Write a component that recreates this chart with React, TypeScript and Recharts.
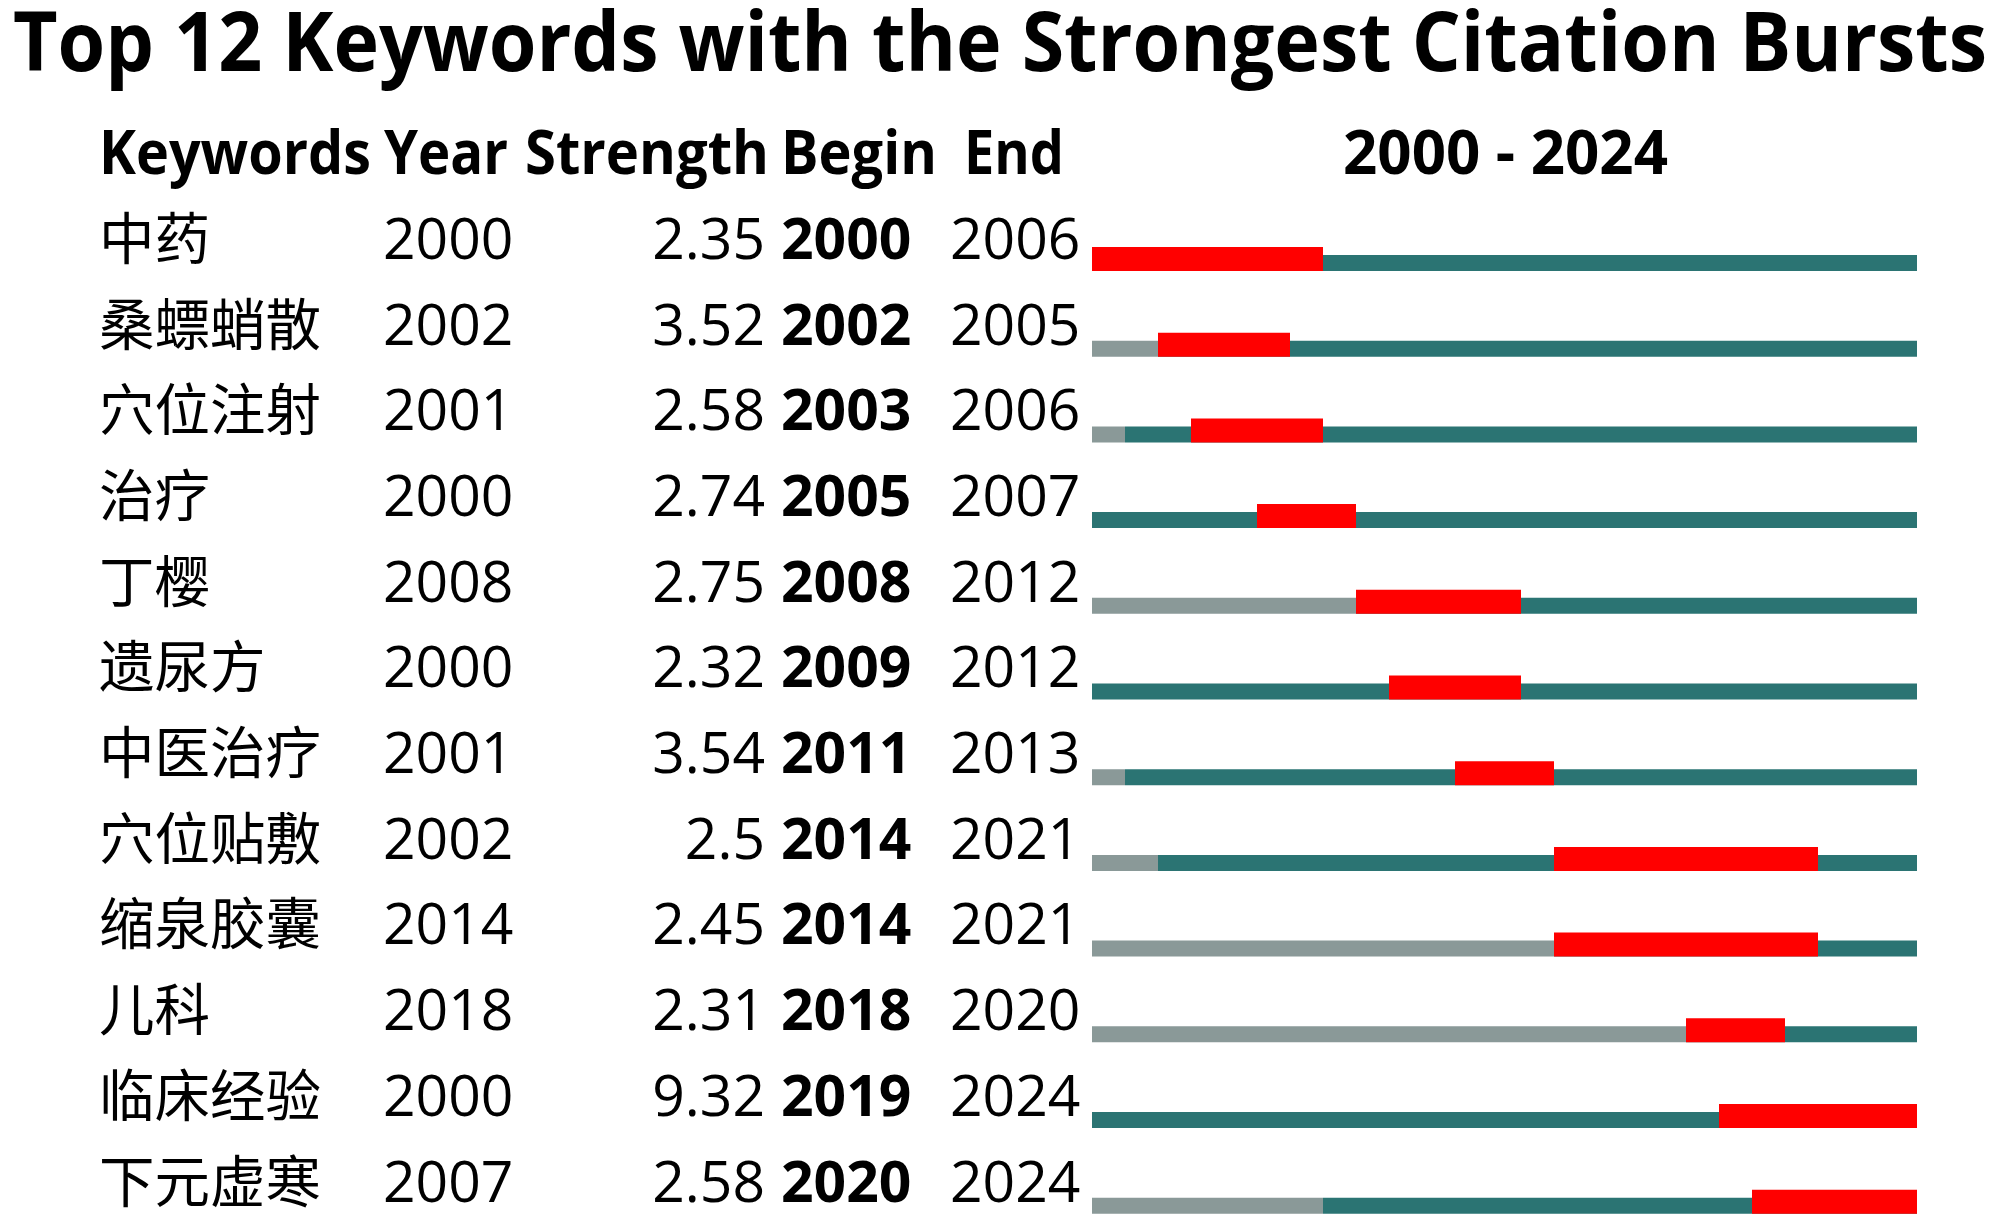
import { ComposedChart, Bar, XAxis, YAxis } from "recharts";

// burst table, one entry per row (top to bottom)
const keywords = ["中药", "桑螵蛸散", "穴位注射", "治疗", "丁樱", "遗尿方", "中医治疗", "穴位贴敷", "缩泉胶囊", "儿科", "临床经验", "下元虚寒"];
const years = [2000, 2002, 2001, 2000, 2008, 2000, 2001, 2002, 2014, 2018, 2000, 2007];
const strengths = [2.35, 3.52, 2.58, 2.74, 2.75, 2.32, 3.54, 2.5, 2.45, 2.31, 9.32, 2.58];
const begins = [2000, 2002, 2003, 2005, 2008, 2009, 2011, 2014, 2014, 2018, 2019, 2020];
const ends = [2006, 2005, 2006, 2007, 2012, 2012, 2013, 2021, 2021, 2020, 2024, 2024];

const START = 2000;
const STOP = 2024;

const TEAL = "#2B7473";
const GREY = "#8A9998";
const RED = "#FF0000";
const FONT = "'Open Sans', 'Noto Sans CJK SC', sans-serif";

const rows = keywords.map((k, i) => ({
  keyword: k,
  grey: [START, years[i]],
  teal: [years[i], STOP + 1],
  burst: [begins[i], ends[i] + 1],
}));

// draws the text columns of one row next to its bar
const RowTick = (props: any) => {
  const i = keywords.indexOf(props.payload.value);
  const y = props.y - 4;
  return (
    <g fontFamily={FONT} fontSize={57} fill="#000">
      <text x={99} y={y} fontSize={55.5}>{keywords[i]}</text>
      <text x={383} y={y}>{years[i]}</text>
      <text x={765} y={y} textAnchor="end">{String(strengths[i])}</text>
      <text x={781} y={y} fontWeight="bold">{begins[i]}</text>
      <text x={950} y={y}>{ends[i]}</text>
    </g>
  );
};

export default function App() {
  return (
    <div style={{ position: "relative", width: 2000, height: 1223, overflow: "hidden", background: "#fff" }}>
      <style>{"body{margin:0}"}</style>
      <ComposedChart
        width={2000}
        height={1260}
        data={rows}
        layout="vertical"
        margin={{ top: 220, right: 83, bottom: 11.6, left: 0 }}
      >
        <XAxis type="number" domain={[START, STOP + 1]} hide />
        <YAxis
          yAxisId="teal"
          type="category"
          dataKey="keyword"
          width={1092}
          axisLine={false}
          tickLine={false}
          interval={0}
          tick={<RowTick />}
        />
        <YAxis yAxisId="grey" type="category" dataKey="keyword" hide />
        <YAxis yAxisId="red" type="category" dataKey="keyword" hide padding={{ top: -4, bottom: 4 }} />
        <Bar yAxisId="teal" dataKey="teal" fill={TEAL} barSize={16} isAnimationActive={false} />
        <Bar yAxisId="grey" dataKey="grey" fill={GREY} barSize={16} isAnimationActive={false} />
        <Bar yAxisId="red" dataKey="burst" fill={RED} barSize={24} isAnimationActive={false} />
      </ComposedChart>

      <svg width={2000} height={200} style={{ position: "absolute", left: 0, top: 0 }} fontFamily={FONT} fontWeight="bold">
        <text x={13} y={71} fontSize={83} textLength={1974} lengthAdjust="spacingAndGlyphs">
          Top 12 Keywords with the Strongest Citation Bursts
        </text>
        <text x={99} y={174} fontSize={60} textLength={272} lengthAdjust="spacingAndGlyphs">Keywords</text>
        <text x={384} y={174} fontSize={60} textLength={124} lengthAdjust="spacingAndGlyphs">Year</text>
        <text x={525} y={174} fontSize={60} textLength={244} lengthAdjust="spacingAndGlyphs">Strength</text>
        <text x={781} y={174} fontSize={60} textLength={156} lengthAdjust="spacingAndGlyphs">Begin</text>
        <text x={964} y={174} fontSize={60} textLength={100} lengthAdjust="spacingAndGlyphs">End</text>
        <text x={1343} y={174} fontSize={60} textLength={325} lengthAdjust="spacingAndGlyphs">
          {`${START} - ${STOP}`}
        </text>
      </svg>
    </div>
  );
}
